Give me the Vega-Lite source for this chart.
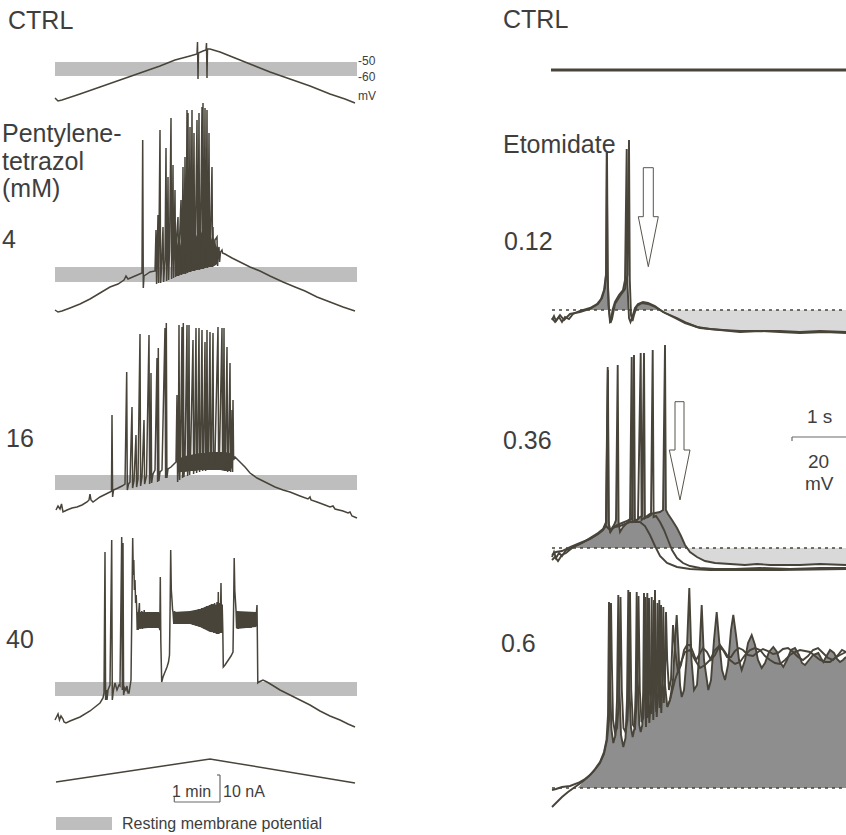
{
"$schema": "https://vega.github.io/schema/vega-lite/v6.json",
"width": 846, "height": 835, "padding": 0, "autosize": {"type": "none"},
"background": "white",
"config": {"view": {"stroke": null}},
"datasets": {
"bands": [
{"x":55,"x2":357,"y":62,"y2":76},
{"x":55,"x2":357,"y":267,"y2":282},
{"x":55,"x2":357,"y":475,"y2":490},
{"x":55,"x2":357,"y":682,"y2":696},
{"x":56,"x2":112,"y":817,"y2":830}
],
"mass": [
{"s":"m4","x":176,"y":250,"b":276},{"s":"m4","x":178,"y":241,"b":276},{"s":"m4","x":180,"y":246,"b":275},{"s":"m4","x":182,"y":237,"b":274},{"s":"m4","x":184,"y":243,"b":274},{"s":"m4","x":186,"y":235,"b":273},{"s":"m4","x":188,"y":240,"b":272},{"s":"m4","x":190,"y":233,"b":272},{"s":"m4","x":192,"y":238,"b":271},{"s":"m4","x":194,"y":232,"b":271},{"s":"m4","x":196,"y":237,"b":270},{"s":"m4","x":198,"y":231,"b":270},{"s":"m4","x":200,"y":236,"b":269},{"s":"m4","x":202,"y":231,"b":269},{"s":"m4","x":204,"y":236,"b":268},{"s":"m4","x":206,"y":232,"b":268},{"s":"m4","x":208,"y":237,"b":267},{"s":"m4","x":210,"y":234,"b":267},{"s":"m4","x":212,"y":240,"b":267},{"s":"m4","x":214,"y":238,"b":266},{"s":"m4","x":216,"y":245,"b":265},{"s":"m4","x":218,"y":250,"b":263},
{"s":"m16","x":177,"y":462,"b":470},{"s":"m16","x":180,"y":458,"b":472},{"s":"m16","x":185,"y":456,"b":472},{"s":"m16","x":190,"y":455,"b":471},{"s":"m16","x":195,"y":454,"b":471},{"s":"m16","x":200,"y":453,"b":470},{"s":"m16","x":205,"y":453,"b":470},{"s":"m16","x":210,"y":452,"b":470},{"s":"m16","x":215,"y":452,"b":470},{"s":"m16","x":220,"y":452,"b":470},{"s":"m16","x":225,"y":452,"b":471},{"s":"m16","x":230,"y":453,"b":471},{"s":"m16","x":233,"y":455,"b":466},
{"s":"m40a","x":137.5,"y":612,"b":629},{"s":"m40a","x":148,"y":612,"b":628},{"s":"m40a","x":159.5,"y":612,"b":628},
{"s":"m40b","x":173,"y":612,"b":624},{"s":"m40b","x":190,"y":611,"b":624},{"s":"m40b","x":200,"y":609,"b":627},{"s":"m40b","x":210,"y":605,"b":632},{"s":"m40b","x":222.5,"y":604,"b":633},
{"s":"m40c","x":236.5,"y":611,"b":629},{"s":"m40c","x":256.5,"y":612,"b":627}
],
"left": [
{"s":"c","x":55,"y":98},{"s":"c","x":58,"y":101},{"s":"c","x":62,"y":100},{"s":"c","x":80,"y":94},{"s":"c","x":100,"y":87},{"s":"c","x":120,"y":80},{"s":"c","x":140,"y":73},{"s":"c","x":160,"y":66},{"s":"c","x":175,"y":60},{"s":"c","x":190,"y":56},{"s":"c","x":197,"y":54},{"s":"c","x":197.5,"y":42},{"s":"c","x":198,"y":79},{"s":"c","x":198.5,"y":53},{"s":"c","x":203,"y":51},{"s":"c","x":206,"y":50},{"s":"c","x":206.5,"y":43},{"s":"c","x":207,"y":78},{"s":"c","x":207.5,"y":49},{"s":"c","x":210,"y":49},{"s":"c","x":220,"y":52},{"s":"c","x":235,"y":58},{"s":"c","x":250,"y":64},{"s":"c","x":270,"y":72},{"s":"c","x":290,"y":79},{"s":"c","x":310,"y":86},{"s":"c","x":330,"y":94},{"s":"c","x":345,"y":99},{"s":"c","x":355,"y":103},

{"s":"p4","x":55,"y":310},{"s":"p4","x":58,"y":312},{"s":"p4","x":62,"y":311},{"s":"p4","x":70,"y":308},{"s":"p4","x":80,"y":304},{"s":"p4","x":90,"y":299},{"s":"p4","x":100,"y":293},{"s":"p4","x":110,"y":287},{"s":"p4","x":118,"y":284},{"s":"p4","x":124,"y":280},{"s":"p4","x":126,"y":276},{"s":"p4","x":128,"y":279},{"s":"p4","x":135,"y":276},{"s":"p4","x":142,"y":273},{"s":"p4","x":142.7,"y":140},{"s":"p4","x":143.3,"y":288},{"s":"p4","x":144,"y":276},{"s":"p4","x":147,"y":274},{"s":"p4","x":150,"y":272},{"s":"p4","x":155,"y":271},
{"s":"p4","x":156,"y":230},{"s":"p4","x":156.6,"y":284},{"s":"p4","x":158,"y":215},{"s":"p4","x":158.6,"y":283},{"s":"p4","x":160,"y":130},{"s":"p4","x":160.6,"y":283},{"s":"p4","x":161.5,"y":268},{"s":"p4","x":163,"y":227},{"s":"p4","x":163.6,"y":282},{"s":"p4","x":165,"y":260},{"s":"p4","x":166,"y":148},{"s":"p4","x":166.6,"y":281},{"s":"p4","x":167.3,"y":255},{"s":"p4","x":168,"y":177},{"s":"p4","x":168.6,"y":280},{"s":"p4","x":169.5,"y":250},{"s":"p4","x":171,"y":118},{"s":"p4","x":171.6,"y":279},{"s":"p4","x":172.3,"y":245},{"s":"p4","x":173,"y":165},{"s":"p4","x":173.6,"y":278},{"s":"p4","x":174.3,"y":240},{"s":"p4","x":175,"y":190},{"s":"p4","x":175.6,"y":277},{"s":"p4","x":176.5,"y":238},{"s":"p4","x":178,"y":217},{"s":"p4","x":178.6,"y":276},{"s":"p4","x":179.5,"y":240},{"s":"p4","x":181,"y":200},{"s":"p4","x":181.6,"y":275},{"s":"p4","x":182.3,"y":236},{"s":"p4","x":183,"y":167},{"s":"p4","x":183.6,"y":274},{"s":"p4","x":184.3,"y":238},{"s":"p4","x":185,"y":157},{"s":"p4","x":185.6,"y":274},{"s":"p4","x":186.3,"y":236},{"s":"p4","x":187,"y":110},{"s":"p4","x":187.6,"y":273},{"s":"p4","x":188,"y":113},{"s":"p4","x":188.6,"y":272},{"s":"p4","x":189.3,"y":235},{"s":"p4","x":190,"y":127},{"s":"p4","x":190.6,"y":272},{"s":"p4","x":191.3,"y":234},{"s":"p4","x":192,"y":110},{"s":"p4","x":192.6,"y":271},{"s":"p4","x":193.3,"y":233},{"s":"p4","x":194,"y":133},{"s":"p4","x":194.6,"y":271},{"s":"p4","x":195.5,"y":233},{"s":"p4","x":197,"y":120},{"s":"p4","x":197.6,"y":270},{"s":"p4","x":198.3,"y":232},{"s":"p4","x":199,"y":113},{"s":"p4","x":199.6,"y":270},{"s":"p4","x":200.5,"y":233},{"s":"p4","x":202,"y":107},{"s":"p4","x":202.5,"y":269},{"s":"p4","x":203,"y":103},{"s":"p4","x":203.6,"y":269},{"s":"p4","x":204.3,"y":232},{"s":"p4","x":205,"y":108},{"s":"p4","x":205.6,"y":268},{"s":"p4","x":206.3,"y":233},{"s":"p4","x":207,"y":110},{"s":"p4","x":207.6,"y":268},{"s":"p4","x":208.3,"y":234},{"s":"p4","x":209,"y":133},{"s":"p4","x":209.6,"y":267},{"s":"p4","x":210.5,"y":236},{"s":"p4","x":212,"y":167},{"s":"p4","x":212.6,"y":267},{"s":"p4","x":213,"y":227},{"s":"p4","x":213.6,"y":266},{"s":"p4","x":215,"y":240},{"s":"p4","x":217,"y":237},{"s":"p4","x":217.6,"y":266},{"s":"p4","x":218.3,"y":250},{"s":"p4","x":219,"y":247},{"s":"p4","x":219.6,"y":262},{"s":"p4","x":220.5,"y":252},{"s":"p4","x":222,"y":250},{"s":"p4","x":222.5,"y":253},{"s":"p4","x":225,"y":254},{"s":"p4","x":232,"y":258},{"s":"p4","x":240,"y":262},{"s":"p4","x":250,"y":267},{"s":"p4","x":260,"y":271},{"s":"p4","x":270,"y":276},{"s":"p4","x":283,"y":282},{"s":"p4","x":295,"y":287},{"s":"p4","x":305,"y":291},{"s":"p4","x":317,"y":297},{"s":"p4","x":330,"y":302},{"s":"p4","x":343,"y":307},{"s":"p4","x":355,"y":311},

{"s":"p16","x":56,"y":510},{"s":"p16","x":58,"y":506},{"s":"p16","x":60,"y":509},{"s":"p16","x":61.5,"y":504},{"s":"p16","x":63,"y":512},{"s":"p16","x":67,"y":510},{"s":"p16","x":72,"y":508},{"s":"p16","x":77,"y":507},{"s":"p16","x":82,"y":505},{"s":"p16","x":87,"y":502},{"s":"p16","x":89,"y":500},{"s":"p16","x":90,"y":494},{"s":"p16","x":91,"y":500},{"s":"p16","x":93,"y":502},{"s":"p16","x":100,"y":497},{"s":"p16","x":106,"y":494},{"s":"p16","x":110,"y":492},{"s":"p16","x":111.5,"y":491},{"s":"p16","x":112,"y":415},{"s":"p16","x":112.6,"y":497},{"s":"p16","x":113.5,"y":490},{"s":"p16","x":118,"y":488},{"s":"p16","x":122,"y":486},{"s":"p16","x":125,"y":484},{"s":"p16","x":126.7,"y":372},{"s":"p16","x":127.3,"y":490},{"s":"p16","x":128.5,"y":484},{"s":"p16","x":130,"y":482},{"s":"p16","x":132,"y":407},{"s":"p16","x":132.6,"y":488},{"s":"p16","x":134,"y":481},{"s":"p16","x":136,"y":435},{"s":"p16","x":136.6,"y":487},{"s":"p16","x":138,"y":479},{"s":"p16","x":140,"y":334},{"s":"p16","x":140.6,"y":486},{"s":"p16","x":142,"y":477},{"s":"p16","x":144,"y":420},{"s":"p16","x":144.6,"y":484},{"s":"p16","x":146.5,"y":476},{"s":"p16","x":149,"y":335},{"s":"p16","x":149.6,"y":484},{"s":"p16","x":150.3,"y":475},{"s":"p16","x":151,"y":373},{"s":"p16","x":151.6,"y":483},{"s":"p16","x":153,"y":474},{"s":"p16","x":155,"y":470},{"s":"p16","x":157,"y":358},{"s":"p16","x":157.6,"y":482},{"s":"p16","x":158.3,"y":348},{"s":"p16","x":158.9,"y":481},{"s":"p16","x":160,"y":472},{"s":"p16","x":162,"y":470},{"s":"p16","x":165,"y":328},{"s":"p16","x":165.6,"y":478},{"s":"p16","x":166.3,"y":323},{"s":"p16","x":166.9,"y":478},{"s":"p16","x":168,"y":469},{"s":"p16","x":171,"y":467},{"s":"p16","x":174,"y":464},{"s":"p16","x":176,"y":462},{"s":"p16","x":177,"y":395},{"s":"p16","x":177.6,"y":482},{"s":"p16","x":178.3,"y":466},{"s":"p16","x":179,"y":325},{"s":"p16","x":179.6,"y":480},{"s":"p16","x":180.4,"y":462},{"s":"p16","x":182,"y":327},{"s":"p16","x":182.6,"y":478},{"s":"p16","x":183.3,"y":323},{"s":"p16","x":183.9,"y":477},{"s":"p16","x":185,"y":460},{"s":"p16","x":187,"y":325},{"s":"p16","x":187.6,"y":476},{"s":"p16","x":188.4,"y":459},{"s":"p16","x":189,"y":325},{"s":"p16","x":189.6,"y":475},{"s":"p16","x":190.5,"y":459},{"s":"p16","x":193,"y":340},{"s":"p16","x":193.6,"y":474},{"s":"p16","x":194.5,"y":458},{"s":"p16","x":196,"y":328},{"s":"p16","x":196.6,"y":473},{"s":"p16","x":197.5,"y":458},{"s":"p16","x":199,"y":328},{"s":"p16","x":199.6,"y":472},{"s":"p16","x":200.5,"y":457},{"s":"p16","x":202,"y":330},{"s":"p16","x":202.6,"y":471},{"s":"p16","x":203.5,"y":457},{"s":"p16","x":205,"y":342},{"s":"p16","x":205.6,"y":471},{"s":"p16","x":206.3,"y":457},{"s":"p16","x":207,"y":330},{"s":"p16","x":207.6,"y":470},{"s":"p16","x":208.5,"y":456},{"s":"p16","x":210,"y":332},{"s":"p16","x":210.6,"y":470},{"s":"p16","x":211.5,"y":456},{"s":"p16","x":213,"y":333},{"s":"p16","x":213.6,"y":470},{"s":"p16","x":215,"y":455},{"s":"p16","x":218,"y":327},{"s":"p16","x":218.6,"y":470},{"s":"p16","x":219.5,"y":455},{"s":"p16","x":222,"y":328},{"s":"p16","x":222.6,"y":470},{"s":"p16","x":223.3,"y":455},{"s":"p16","x":224,"y":328},{"s":"p16","x":224.6,"y":471},{"s":"p16","x":225.5,"y":455},{"s":"p16","x":227,"y":347},{"s":"p16","x":227.6,"y":472},{"s":"p16","x":228.5,"y":455},{"s":"p16","x":230,"y":363},{"s":"p16","x":230.6,"y":472},{"s":"p16","x":231.3,"y":455},{"s":"p16","x":232,"y":410},{"s":"p16","x":232.6,"y":472},{"s":"p16","x":233,"y":400},{"s":"p16","x":233.6,"y":460},{"s":"p16","x":235,"y":457},{"s":"p16","x":240,"y":462},{"s":"p16","x":245,"y":467},{"s":"p16","x":250,"y":473},{"s":"p16","x":257,"y":478},{"s":"p16","x":265,"y":482},{"s":"p16","x":275,"y":487},{"s":"p16","x":283,"y":490},{"s":"p16","x":290,"y":492},{"s":"p16","x":300,"y":496},{"s":"p16","x":308,"y":499},{"s":"p16","x":310,"y":497},{"s":"p16","x":311,"y":500},{"s":"p16","x":317,"y":502},{"s":"p16","x":325,"y":505},{"s":"p16","x":330,"y":507},{"s":"p16","x":333,"y":506},{"s":"p16","x":335,"y":509},{"s":"p16","x":343,"y":511},{"s":"p16","x":348,"y":513},{"s":"p16","x":350,"y":512},{"s":"p16","x":352,"y":516},{"s":"p16","x":357,"y":518},

{"s":"p40","x":55,"y":720},{"s":"p40","x":57,"y":716},{"s":"p40","x":58,"y":714},{"s":"p40","x":59.5,"y":720},{"s":"p40","x":61,"y":716},{"s":"p40","x":63,"y":719},{"s":"p40","x":64,"y":722},{"s":"p40","x":66,"y":723},{"s":"p40","x":70,"y":721},{"s":"p40","x":80,"y":717},{"s":"p40","x":90,"y":711},{"s":"p40","x":100,"y":703},{"s":"p40","x":103,"y":698},{"s":"p40","x":104,"y":693},{"s":"p40","x":105,"y":552},{"s":"p40","x":105.6,"y":700},{"s":"p40","x":106.5,"y":690},{"s":"p40","x":107,"y":700},{"s":"p40","x":108,"y":690},{"s":"p40","x":110,"y":685},{"s":"p40","x":111.7,"y":540},{"s":"p40","x":112.3,"y":700},{"s":"p40","x":113.5,"y":690},{"s":"p40","x":115,"y":683},{"s":"p40","x":117,"y":690},{"s":"p40","x":119,"y":685},{"s":"p40","x":120,"y":686},{"s":"p40","x":121.7,"y":537},{"s":"p40","x":122.3,"y":690},{"s":"p40","x":123,"y":543},{"s":"p40","x":123.6,"y":695},{"s":"p40","x":125,"y":688},{"s":"p40","x":126,"y":690},{"s":"p40","x":127,"y":686},{"s":"p40","x":128,"y":693},{"s":"p40","x":129,"y":693},{"s":"p40","x":131,"y":680},{"s":"p40","x":132.7,"y":538},{"s":"p40","x":133.3,"y":575},{"s":"p40","x":133.8,"y":560},{"s":"p40","x":134.4,"y":590},{"s":"p40","x":135,"y":580},{"s":"p40","x":135.6,"y":603},{"s":"p40","x":136.2,"y":595},{"s":"p40","x":136.8,"y":612},{"s":"p40","x":137.2,"y":630},
{"s":"p40","x":137.6,"y":612},{"s":"p40","x":138.2,"y":630},{"s":"p40","x":138.8,"y":611},{"s":"p40","x":139.4,"y":603},{"s":"p40","x":140,"y":629},{"s":"p40","x":140.6,"y":612},{"s":"p40","x":141.2,"y":628},{"s":"p40","x":141.8,"y":611},{"s":"p40","x":142.4,"y":629},{"s":"p40","x":143,"y":612},{"s":"p40","x":143.6,"y":628},{"s":"p40","x":144.2,"y":610},{"s":"p40","x":144.8,"y":628},{"s":"p40","x":145.4,"y":612},{"s":"p40","x":146,"y":627},{"s":"p40","x":146.6,"y":613},{"s":"p40","x":147.2,"y":628},{"s":"p40","x":147.8,"y":612},{"s":"p40","x":148.4,"y":627},{"s":"p40","x":149,"y":613},{"s":"p40","x":149.6,"y":627},{"s":"p40","x":150.2,"y":612},{"s":"p40","x":150.8,"y":628},{"s":"p40","x":151.4,"y":613},{"s":"p40","x":152,"y":627},{"s":"p40","x":152.6,"y":612},{"s":"p40","x":153.2,"y":628},{"s":"p40","x":153.8,"y":613},{"s":"p40","x":154.4,"y":627},{"s":"p40","x":155,"y":612},{"s":"p40","x":155.6,"y":628},{"s":"p40","x":156.2,"y":613},{"s":"p40","x":156.8,"y":627},{"s":"p40","x":157.4,"y":612},{"s":"p40","x":158,"y":628},{"s":"p40","x":158.6,"y":613},{"s":"p40","x":159.2,"y":627},
{"s":"p40","x":159.8,"y":630},{"s":"p40","x":160.3,"y":577},{"s":"p40","x":160.8,"y":640},{"s":"p40","x":161.7,"y":682},{"s":"p40","x":163,"y":677},{"s":"p40","x":165,"y":672},{"s":"p40","x":167,"y":667},{"s":"p40","x":168.5,"y":662},{"s":"p40","x":169.5,"y":655},{"s":"p40","x":170.2,"y":600},{"s":"p40","x":170.7,"y":550},{"s":"p40","x":171.3,"y":590},{"s":"p40","x":172,"y":600},{"s":"p40","x":172.6,"y":610},
{"s":"p40","x":173,"y":612},{"s":"p40","x":173.8,"y":624},{"s":"p40","x":174.6,"y":611},{"s":"p40","x":175.4,"y":624},{"s":"p40","x":176.2,"y":612},{"s":"p40","x":177,"y":624},{"s":"p40","x":177.8,"y":612},{"s":"p40","x":178.6,"y":623},{"s":"p40","x":179.4,"y":612},{"s":"p40","x":180.2,"y":623},{"s":"p40","x":181,"y":612},{"s":"p40","x":181.8,"y":623},{"s":"p40","x":182.6,"y":612},{"s":"p40","x":183.4,"y":623},{"s":"p40","x":184.2,"y":612},{"s":"p40","x":185,"y":623},{"s":"p40","x":185.8,"y":612},{"s":"p40","x":186.6,"y":624},{"s":"p40","x":187.4,"y":612},{"s":"p40","x":188.2,"y":624},{"s":"p40","x":189,"y":612},{"s":"p40","x":189.8,"y":624},{"s":"p40","x":190.6,"y":611},{"s":"p40","x":191.4,"y":624},{"s":"p40","x":192.2,"y":611},{"s":"p40","x":193,"y":625},{"s":"p40","x":193.8,"y":611},{"s":"p40","x":194.6,"y":625},{"s":"p40","x":195.4,"y":610},{"s":"p40","x":196.2,"y":626},{"s":"p40","x":197,"y":610},{"s":"p40","x":197.8,"y":626},{"s":"p40","x":198.6,"y":609},{"s":"p40","x":199.4,"y":627},{"s":"p40","x":200.2,"y":609},{"s":"p40","x":201,"y":627},{"s":"p40","x":201.8,"y":608},{"s":"p40","x":202.6,"y":628},{"s":"p40","x":203.4,"y":608},{"s":"p40","x":204.2,"y":629},{"s":"p40","x":205,"y":607},{"s":"p40","x":205.8,"y":629},{"s":"p40","x":206.6,"y":606},{"s":"p40","x":207.4,"y":630},{"s":"p40","x":208.2,"y":606},{"s":"p40","x":209,"y":631},{"s":"p40","x":209.8,"y":605},{"s":"p40","x":210.6,"y":632},{"s":"p40","x":211.4,"y":604},{"s":"p40","x":212.2,"y":632},{"s":"p40","x":213,"y":604},{"s":"p40","x":213.8,"y":633},{"s":"p40","x":214.6,"y":603},{"s":"p40","x":215.4,"y":633},{"s":"p40","x":216,"y":605},{"s":"p40","x":216.4,"y":634},{"s":"p40","x":217,"y":602},{"s":"p40","x":217.8,"y":634},{"s":"p40","x":218.3,"y":592},{"s":"p40","x":218.9,"y":634},{"s":"p40","x":219.5,"y":603},{"s":"p40","x":220.2,"y":633},{"s":"p40","x":221,"y":583},{"s":"p40","x":221.6,"y":633},{"s":"p40","x":222.2,"y":605},{"s":"p40","x":222.8,"y":630},
{"s":"p40","x":223.3,"y":667},{"s":"p40","x":225,"y":665},{"s":"p40","x":227,"y":662},{"s":"p40","x":229,"y":659},{"s":"p40","x":231,"y":656},{"s":"p40","x":233,"y":652},{"s":"p40","x":233.7,"y":600},{"s":"p40","x":234.2,"y":558},{"s":"p40","x":234.8,"y":590},{"s":"p40","x":235.4,"y":600},{"s":"p40","x":236,"y":610},
{"s":"p40","x":236.6,"y":628},{"s":"p40","x":237.4,"y":611},{"s":"p40","x":238.2,"y":629},{"s":"p40","x":239,"y":612},{"s":"p40","x":239.8,"y":628},{"s":"p40","x":240.6,"y":612},{"s":"p40","x":241.4,"y":628},{"s":"p40","x":242.2,"y":612},{"s":"p40","x":243,"y":628},{"s":"p40","x":243.8,"y":613},{"s":"p40","x":244.6,"y":628},{"s":"p40","x":245.4,"y":612},{"s":"p40","x":246.2,"y":628},{"s":"p40","x":247,"y":613},{"s":"p40","x":247.8,"y":628},{"s":"p40","x":248.6,"y":612},{"s":"p40","x":249.4,"y":628},{"s":"p40","x":250.2,"y":613},{"s":"p40","x":251,"y":628},{"s":"p40","x":251.8,"y":612},{"s":"p40","x":252.6,"y":627},{"s":"p40","x":253.4,"y":613},{"s":"p40","x":254.2,"y":627},{"s":"p40","x":255,"y":613},{"s":"p40","x":255.8,"y":626},{"s":"p40","x":256.5,"y":612},{"s":"p40","x":257,"y":605},{"s":"p40","x":257.4,"y":640},{"s":"p40","x":257.8,"y":683},{"s":"p40","x":259,"y":682},{"s":"p40","x":261,"y":681},{"s":"p40","x":263,"y":680},{"s":"p40","x":267,"y":682},{"s":"p40","x":272,"y":685},{"s":"p40","x":280,"y":690},{"s":"p40","x":290,"y":695},{"s":"p40","x":300,"y":700},{"s":"p40","x":310,"y":705},{"s":"p40","x":320,"y":711},{"s":"p40","x":330,"y":716},{"s":"p40","x":340,"y":720},{"s":"p40","x":348,"y":724},{"s":"p40","x":355,"y":727},

{"s":"ramp","x":56,"y":782},{"s":"ramp","x":210,"y":759},{"s":"ramp","x":355,"y":783}
],
"right": [
{"s":"r1a","x":552,"y":320},{"s":"r1a","x":554,"y":316},{"s":"r1a","x":556,"y":321},{"s":"r1a","x":559,"y":317},{"s":"r1a","x":562,"y":322},{"s":"r1a","x":565,"y":317},{"s":"r1a","x":569,"y":319},{"s":"r1a","x":573,"y":314},{"s":"r1a","x":580,"y":311},{"s":"r1a","x":590,"y":308},{"s":"r1a","x":597,"y":304},{"s":"r1a","x":601,"y":299},{"s":"r1a","x":604,"y":290},{"s":"r1a","x":606,"y":275},{"s":"r1a","x":606.7,"y":152},{"s":"r1a","x":607.5,"y":270},{"s":"r1a","x":608.5,"y":305},{"s":"r1a","x":610,"y":322},{"s":"r1a","x":611,"y":321},{"s":"r1a","x":612.5,"y":310},{"s":"r1a","x":615,"y":302},{"s":"r1a","x":619,"y":295},{"s":"r1a","x":623,"y":290},{"s":"r1a","x":625,"y":280},{"s":"r1a","x":626.7,"y":149},{"s":"r1a","x":627.5,"y":285},{"s":"r1a","x":629,"y":318},{"s":"r1a","x":630.5,"y":322},{"s":"r1a","x":632,"y":318},{"s":"r1a","x":635,"y":308},{"s":"r1a","x":638,"y":304},{"s":"r1a","x":643,"y":302},{"s":"r1a","x":648,"y":303},{"s":"r1a","x":655,"y":306},{"s":"r1a","x":663,"y":312},{"s":"r1a","x":670,"y":315},{"s":"r1a","x":677,"y":318},{"s":"r1a","x":687,"y":323},{"s":"r1a","x":697,"y":327},{"s":"r1a","x":710,"y":329},{"s":"r1a","x":723,"y":330},{"s":"r1a","x":740,"y":331},{"s":"r1a","x":757,"y":331},{"s":"r1a","x":780,"y":331},{"s":"r1a","x":800,"y":332},{"s":"r1a","x":820,"y":331},{"s":"r1a","x":846,"y":332},
{"s":"r1b","x":552,"y":318},{"s":"r1b","x":555,"y":322},{"s":"r1b","x":560,"y":315},{"s":"r1b","x":564,"y":320},{"s":"r1b","x":570,"y":314},{"s":"r1b","x":580,"y":312},{"s":"r1b","x":590,"y":309},{"s":"r1b","x":598,"y":304},{"s":"r1b","x":602,"y":298},{"s":"r1b","x":605,"y":288},{"s":"r1b","x":606.3,"y":270},{"s":"r1b","x":607,"y":153},{"s":"r1b","x":607.8,"y":280},{"s":"r1b","x":609,"y":310},{"s":"r1b","x":610.5,"y":323},{"s":"r1b","x":612,"y":319},{"s":"r1b","x":615,"y":304},{"s":"r1b","x":620,"y":296},{"s":"r1b","x":625,"y":289},{"s":"r1b","x":627.5,"y":275},{"s":"r1b","x":629,"y":140},{"s":"r1b","x":629.8,"y":280},{"s":"r1b","x":631,"y":315},{"s":"r1b","x":632.5,"y":321},{"s":"r1b","x":634,"y":315},{"s":"r1b","x":637,"y":306},{"s":"r1b","x":642,"y":303},{"s":"r1b","x":648,"y":304},{"s":"r1b","x":655,"y":307},{"s":"r1b","x":665,"y":313},{"s":"r1b","x":675,"y":318},{"s":"r1b","x":685,"y":323},{"s":"r1b","x":700,"y":328},{"s":"r1b","x":720,"y":330},{"s":"r1b","x":740,"y":332},{"s":"r1b","x":760,"y":331},{"s":"r1b","x":780,"y":332},{"s":"r1b","x":800,"y":333},{"s":"r1b","x":825,"y":332},{"s":"r1b","x":846,"y":333},

{"s":"r3a","x":552,"y":557},{"s":"r3a","x":554,"y":552},{"s":"r3a","x":556,"y":558},{"s":"r3a","x":559,"y":553},{"s":"r3a","x":562,"y":556},{"s":"r3a","x":566,"y":550},{"s":"r3a","x":570,"y":549},{"s":"r3a","x":575,"y":546},{"s":"r3a","x":582,"y":543},{"s":"r3a","x":590,"y":538},{"s":"r3a","x":598,"y":533},{"s":"r3a","x":603,"y":529},{"s":"r3a","x":606,"y":522},{"s":"r3a","x":607.7,"y":367},{"s":"r3a","x":608.6,"y":522},{"s":"r3a","x":610,"y":531},{"s":"r3a","x":612,"y":528},{"s":"r3a","x":614,"y":525},{"s":"r3a","x":616,"y":520},{"s":"r3a","x":617.7,"y":365},{"s":"r3a","x":618.6,"y":522},{"s":"r3a","x":620,"y":532},{"s":"r3a","x":623,"y":527},{"s":"r3a","x":626,"y":524},{"s":"r3a","x":629,"y":521},{"s":"r3a","x":632,"y":518},{"s":"r3a","x":634,"y":355},{"s":"r3a","x":634.9,"y":520},{"s":"r3a","x":637,"y":520},{"s":"r3a","x":640,"y":517},{"s":"r3a","x":642,"y":516},{"s":"r3a","x":644,"y":353},{"s":"r3a","x":644.9,"y":518},{"s":"r3a","x":647,"y":516},{"s":"r3a","x":650,"y":514},{"s":"r3a","x":655,"y":513},{"s":"r3a","x":660,"y":512},{"s":"r3a","x":663,"y":510},{"s":"r3a","x":665,"y":345},{"s":"r3a","x":665.9,"y":510},{"s":"r3a","x":668,"y":514},{"s":"r3a","x":672,"y":520},{"s":"r3a","x":677,"y":528},{"s":"r3a","x":681,"y":536},{"s":"r3a","x":685,"y":545},{"s":"r3a","x":690,"y":552},{"s":"r3a","x":697,"y":557},{"s":"r3a","x":705,"y":561},{"s":"r3a","x":715,"y":563},{"s":"r3a","x":730,"y":564},{"s":"r3a","x":745,"y":565},{"s":"r3a","x":757,"y":564},{"s":"r3a","x":770,"y":565},{"s":"r3a","x":800,"y":565},{"s":"r3a","x":820,"y":564},{"s":"r3a","x":846,"y":565},
{"s":"r3b","x":552,"y":560},{"s":"r3b","x":555,"y":557},{"s":"r3b","x":558,"y":561},{"s":"r3b","x":562,"y":555},{"s":"r3b","x":566,"y":553},{"s":"r3b","x":572,"y":548},{"s":"r3b","x":580,"y":544},{"s":"r3b","x":590,"y":539},{"s":"r3b","x":598,"y":534},{"s":"r3b","x":603,"y":530},{"s":"r3b","x":606,"y":524},{"s":"r3b","x":607.9,"y":370},{"s":"r3b","x":608.8,"y":524},{"s":"r3b","x":610.5,"y":532},{"s":"r3b","x":613,"y":528},{"s":"r3b","x":617,"y":525},{"s":"r3b","x":622,"y":523},{"s":"r3b","x":627,"y":521},{"s":"r3b","x":630,"y":519},{"s":"r3b","x":631.7,"y":357},{"s":"r3b","x":632.6,"y":522},{"s":"r3b","x":635,"y":521},{"s":"r3b","x":638,"y":519},{"s":"r3b","x":640.7,"y":353},{"s":"r3b","x":641.6,"y":520},{"s":"r3b","x":644,"y":518},{"s":"r3b","x":648,"y":517},{"s":"r3b","x":651,"y":515},{"s":"r3b","x":652.7,"y":350},{"s":"r3b","x":653.6,"y":517},{"s":"r3b","x":656,"y":516},{"s":"r3b","x":660,"y":522},{"s":"r3b","x":664,"y":530},{"s":"r3b","x":668,"y":540},{"s":"r3b","x":672,"y":550},{"s":"r3b","x":677,"y":558},{"s":"r3b","x":683,"y":563},{"s":"r3b","x":690,"y":566},{"s":"r3b","x":700,"y":568},{"s":"r3b","x":715,"y":569},{"s":"r3b","x":735,"y":569},{"s":"r3b","x":760,"y":568},{"s":"r3b","x":790,"y":569},{"s":"r3b","x":820,"y":568},{"s":"r3b","x":846,"y":568},
{"s":"r3c","x":552,"y":555},{"s":"r3c","x":556,"y":552},{"s":"r3c","x":562,"y":551},{"s":"r3c","x":570,"y":547},{"s":"r3c","x":580,"y":543},{"s":"r3c","x":590,"y":539},{"s":"r3c","x":598,"y":534},{"s":"r3c","x":603,"y":530},{"s":"r3c","x":606,"y":526},{"s":"r3c","x":610,"y":530},{"s":"r3c","x":615,"y":527},{"s":"r3c","x":620,"y":526},{"s":"r3c","x":625,"y":524},{"s":"r3c","x":630,"y":522},{"s":"r3c","x":635,"y":522},{"s":"r3c","x":640,"y":522},{"s":"r3c","x":645,"y":526},{"s":"r3c","x":650,"y":535},{"s":"r3c","x":655,"y":546},{"s":"r3c","x":660,"y":556},{"s":"r3c","x":667,"y":563},{"s":"r3c","x":677,"y":567},{"s":"r3c","x":690,"y":569},{"s":"r3c","x":710,"y":570},{"s":"r3c","x":740,"y":570},{"s":"r3c","x":780,"y":570},{"s":"r3c","x":846,"y":569},

{"s":"r6a","x":552,"y":790},{"s":"r6a","x":556,"y":789},{"s":"r6a","x":562,"y":787},{"s":"r6a","x":570,"y":786},{"s":"r6a","x":578,"y":783},{"s":"r6a","x":585,"y":779},{"s":"r6a","x":590,"y":775},{"s":"r6a","x":595,"y":769},{"s":"r6a","x":600,"y":762},{"s":"r6a","x":604,"y":752},{"s":"r6a","x":606.5,"y":740},{"s":"r6a","x":608,"y":715},{"s":"r6a","x":609,"y":602},{"s":"r6a","x":610,"y":680},{"s":"r6a","x":611.5,"y":730},{"s":"r6a","x":613.3,"y":743},{"s":"r6a","x":615.5,"y":735},{"s":"r6a","x":617,"y":700},{"s":"r6a","x":618.3,"y":595},{"s":"r6a","x":619.5,"y":690},{"s":"r6a","x":621,"y":735},{"s":"r6a","x":623.3,"y":747},{"s":"r6a","x":625.5,"y":738},{"s":"r6a","x":627,"y":700},{"s":"r6a","x":628.3,"y":590},{"s":"r6a","x":629.5,"y":690},{"s":"r6a","x":631,"y":728},{"s":"r6a","x":632.7,"y":737},{"s":"r6a","x":634.5,"y":728},{"s":"r6a","x":635.7,"y":690},{"s":"r6a","x":636.7,"y":592},{"s":"r6a","x":637.8,"y":680},{"s":"r6a","x":639.3,"y":725},{"s":"r6a","x":640.7,"y":732},{"s":"r6a","x":642.3,"y":725},{"s":"r6a","x":643.2,"y":690},{"s":"r6a","x":644,"y":593},{"s":"r6a","x":644.8,"y":680},{"s":"r6a","x":646,"y":727},{"s":"r6a","x":646.6,"y":700},{"s":"r6a","x":647.3,"y":593},{"s":"r6a","x":648.1,"y":690},{"s":"r6a","x":649.3,"y":723},{"s":"r6a","x":650.6,"y":705},{"s":"r6a","x":651.7,"y":597},{"s":"r6a","x":652.5,"y":690},{"s":"r6a","x":653.3,"y":720},{"s":"r6a","x":654.1,"y":690},{"s":"r6a","x":655,"y":590},{"s":"r6a","x":655.8,"y":690},{"s":"r6a","x":656.7,"y":717},{"s":"r6a","x":658.2,"y":690},{"s":"r6a","x":659.3,"y":600},{"s":"r6a","x":660.3,"y":690},{"s":"r6a","x":661.3,"y":713},{"s":"r6a","x":662.4,"y":680},{"s":"r6a","x":663.3,"y":607},{"s":"r6a","x":664.5,"y":680},{"s":"r6a","x":667.3,"y":707},{"s":"r6a","x":670,"y":700},{"s":"r6a","x":673,"y":680},{"s":"r6a","x":675,"y":640},{"s":"r6a","x":676.7,"y":615},{"s":"r6a","x":678.5,"y":650},{"s":"r6a","x":680,"y":685},{"s":"r6a","x":681.7,"y":697},{"s":"r6a","x":684,"y":690},{"s":"r6a","x":686.5,"y":660},{"s":"r6a","x":689.3,"y":588},{"s":"r6a","x":691.5,"y":660},{"s":"r6a","x":694,"y":690},{"s":"r6a","x":697,"y":685},{"s":"r6a","x":699.5,"y":650},{"s":"r6a","x":701.7,"y":605},{"s":"r6a","x":704,"y":660},{"s":"r6a","x":708.3,"y":690},{"s":"r6a","x":711,"y":680},{"s":"r6a","x":714,"y":640},{"s":"r6a","x":716.7,"y":612},{"s":"r6a","x":719.5,"y":645},{"s":"r6a","x":722,"y":670},{"s":"r6a","x":725,"y":680},{"s":"r6a","x":728,"y":665},{"s":"r6a","x":731,"y":630},{"s":"r6a","x":733.3,"y":615},{"s":"r6a","x":736,"y":635},{"s":"r6a","x":739,"y":660},{"s":"r6a","x":741.7,"y":670},{"s":"r6a","x":745,"y":660},{"s":"r6a","x":748,"y":643},{"s":"r6a","x":751.7,"y":635},{"s":"r6a","x":755,"y":645},{"s":"r6a","x":758,"y":660},{"s":"r6a","x":761.7,"y":668},{"s":"r6a","x":765,"y":663},{"s":"r6a","x":769,"y":652},{"s":"r6a","x":773.3,"y":647},{"s":"r6a","x":777,"y":652},{"s":"r6a","x":780,"y":662},{"s":"r6a","x":783.3,"y":667},{"s":"r6a","x":787,"y":660},{"s":"r6a","x":791,"y":650},{"s":"r6a","x":795,"y":648},{"s":"r6a","x":799,"y":655},{"s":"r6a","x":802,"y":663},{"s":"r6a","x":805,"y":665},{"s":"r6a","x":809,"y":660},{"s":"r6a","x":813,"y":655},{"s":"r6a","x":818.3,"y":653},{"s":"r6a","x":821,"y":658},{"s":"r6a","x":823.3,"y":662},{"s":"r6a","x":826,"y":657},{"s":"r6a","x":830,"y":650},{"s":"r6a","x":834,"y":653},{"s":"r6a","x":837,"y":659},{"s":"r6a","x":840,"y":662},{"s":"r6a","x":843,"y":660},{"s":"r6a","x":846,"y":657},
{"s":"r6b","x":552,"y":807},{"s":"r6b","x":556,"y":803},{"s":"r6b","x":562,"y":797},{"s":"r6b","x":568,"y":792},{"s":"r6b","x":575,"y":787},{"s":"r6b","x":582,"y":782},{"s":"r6b","x":588,"y":777},{"s":"r6b","x":594,"y":771},{"s":"r6b","x":600,"y":763},{"s":"r6b","x":604,"y":754},{"s":"r6b","x":607,"y":740},{"s":"r6b","x":609,"y":720},{"s":"r6b","x":610.2,"y":640},{"s":"r6b","x":611,"y":603},{"s":"r6b","x":611.8,"y":660},{"s":"r6b","x":613,"y":720},{"s":"r6b","x":615,"y":733},{"s":"r6b","x":617,"y":728},{"s":"r6b","x":619,"y":700},{"s":"r6b","x":620.5,"y":597},{"s":"r6b","x":621.8,"y":690},{"s":"r6b","x":623.5,"y":728},{"s":"r6b","x":625.5,"y":732},{"s":"r6b","x":627.5,"y":720},{"s":"r6b","x":628.8,"y":690},{"s":"r6b","x":630,"y":592},{"s":"r6b","x":631.2,"y":690},{"s":"r6b","x":633,"y":725},{"s":"r6b","x":635,"y":728},{"s":"r6b","x":636.8,"y":700},{"s":"r6b","x":638.5,"y":596},{"s":"r6b","x":639.8,"y":690},{"s":"r6b","x":641.5,"y":722},{"s":"r6b","x":643.3,"y":718},{"s":"r6b","x":644.6,"y":680},{"s":"r6b","x":645.5,"y":597},{"s":"r6b","x":646.4,"y":690},{"s":"r6b","x":647.5,"y":718},{"s":"r6b","x":648.2,"y":690},{"s":"r6b","x":649,"y":598},{"s":"r6b","x":649.8,"y":690},{"s":"r6b","x":651,"y":714},{"s":"r6b","x":652.6,"y":700},{"s":"r6b","x":654,"y":600},{"s":"r6b","x":655,"y":690},{"s":"r6b","x":656.3,"y":712},{"s":"r6b","x":657.5,"y":603},{"s":"r6b","x":658.6,"y":690},{"s":"r6b","x":659.7,"y":708},{"s":"r6b","x":661,"y":605},{"s":"r6b","x":662.2,"y":680},{"s":"r6b","x":663.8,"y":703},{"s":"r6b","x":665,"y":680},{"s":"r6b","x":666,"y":612},{"s":"r6b","x":667.2,"y":660},{"s":"r6b","x":669,"y":690},{"s":"r6b","x":671,"y":680},{"s":"r6b","x":673,"y":625},{"s":"r6b","x":675,"y":650},{"s":"r6b","x":678,"y":672},{"s":"r6b","x":681,"y":665},{"s":"r6b","x":684,"y":650},{"s":"r6b","x":687,"y":645},{"s":"r6b","x":690,"y":645},{"s":"r6b","x":693,"y":652},{"s":"r6b","x":696,"y":660},{"s":"r6b","x":699,"y":655},{"s":"r6b","x":703,"y":648},{"s":"r6b","x":707,"y":652},{"s":"r6b","x":711,"y":660},{"s":"r6b","x":715,"y":655},{"s":"r6b","x":719,"y":647},{"s":"r6b","x":723,"y":650},{"s":"r6b","x":727,"y":657},{"s":"r6b","x":731,"y":657},{"s":"r6b","x":735,"y":651},{"s":"r6b","x":739,"y":648},{"s":"r6b","x":743,"y":650},{"s":"r6b","x":748,"y":655},{"s":"r6b","x":753,"y":656},{"s":"r6b","x":758,"y":652},{"s":"r6b","x":763,"y":649},{"s":"r6b","x":768,"y":651},{"s":"r6b","x":773,"y":654},{"s":"r6b","x":778,"y":653},{"s":"r6b","x":783,"y":649},{"s":"r6b","x":788,"y":648},{"s":"r6b","x":793,"y":652},{"s":"r6b","x":798,"y":657},{"s":"r6b","x":803,"y":660},{"s":"r6b","x":808,"y":656},{"s":"r6b","x":813,"y":650},{"s":"r6b","x":818,"y":648},{"s":"r6b","x":823,"y":653},{"s":"r6b","x":828,"y":658},{"s":"r6b","x":833,"y":660},{"s":"r6b","x":838,"y":655},{"s":"r6b","x":842,"y":650},{"s":"r6b","x":846,"y":652},
{"s":"r6c","x":667,"y":707},{"s":"r6c","x":670,"y":700},{"s":"r6c","x":675,"y":680},{"s":"r6c","x":680,"y":665},{"s":"r6c","x":685,"y":652},{"s":"r6c","x":690,"y":650},{"s":"r6c","x":695,"y":660},{"s":"r6c","x":700,"y":668},{"s":"r6c","x":705,"y":665},{"s":"r6c","x":710,"y":660},{"s":"r6c","x":715,"y":650},{"s":"r6c","x":720,"y":645},{"s":"r6c","x":725,"y":652},{"s":"r6c","x":730,"y":660},{"s":"r6c","x":735,"y":664},{"s":"r6c","x":740,"y":662},{"s":"r6c","x":745,"y":655},{"s":"r6c","x":750,"y":650},{"s":"r6c","x":755,"y":648},{"s":"r6c","x":760,"y":650},{"s":"r6c","x":765,"y":656},{"s":"r6c","x":770,"y":660},{"s":"r6c","x":775,"y":663},{"s":"r6c","x":780,"y":664},{"s":"r6c","x":785,"y":660},{"s":"r6c","x":790,"y":655},{"s":"r6c","x":795,"y":652},{"s":"r6c","x":800,"y":650},{"s":"r6c","x":805,"y":651},{"s":"r6c","x":810,"y":652},{"s":"r6c","x":815,"y":656},{"s":"r6c","x":820,"y":660},{"s":"r6c","x":825,"y":662},{"s":"r6c","x":830,"y":662},{"s":"r6c","x":835,"y":658},{"s":"r6c","x":840,"y":655},{"s":"r6c","x":846,"y":652}
],
"ctrlR": [
{"s":"rc","x":551,"y":70},{"s":"rc","x":600,"y":70},{"s":"rc","x":700,"y":70},{"s":"rc","x":846,"y":70}
],
"darkFill": [
{"s":"f12","x":588,"y":310,"b":310},{"s":"f12","x":590,"y":308,"b":310},{"s":"f12","x":597,"y":304,"b":310},{"s":"f12","x":601,"y":299,"b":310},{"s":"f12","x":604,"y":290,"b":310},{"s":"f12","x":606,"y":275,"b":310},{"s":"f12","x":606.7,"y":152,"b":310},{"s":"f12","x":607.5,"y":270,"b":310},{"s":"f12","x":608.5,"y":305,"b":310},{"s":"f12","x":609,"y":310,"b":310},{"s":"f12","x":612.3,"y":310,"b":310},{"s":"f12","x":615,"y":302,"b":310},{"s":"f12","x":619,"y":295,"b":310},{"s":"f12","x":623,"y":290,"b":310},{"s":"f12","x":625,"y":280,"b":310},{"s":"f12","x":626.7,"y":149,"b":310},{"s":"f12","x":627.5,"y":285,"b":310},{"s":"f12","x":628.8,"y":310,"b":310},{"s":"f12","x":633.5,"y":310,"b":310},{"s":"f12","x":635,"y":308,"b":310},{"s":"f12","x":638,"y":304,"b":310},{"s":"f12","x":643,"y":302,"b":310},{"s":"f12","x":648,"y":303,"b":310},{"s":"f12","x":655,"y":306,"b":310},{"s":"f12","x":662,"y":310,"b":310},
{"s":"f36","x":573,"y":548,"b":548},{"s":"f36","x":575,"y":546,"b":548},{"s":"f36","x":582,"y":543,"b":548},{"s":"f36","x":590,"y":538,"b":548},{"s":"f36","x":598,"y":533,"b":548},{"s":"f36","x":603,"y":529,"b":548},{"s":"f36","x":606,"y":522,"b":548},{"s":"f36","x":607.7,"y":367,"b":548},{"s":"f36","x":608.6,"y":522,"b":548},{"s":"f36","x":610,"y":531,"b":548},{"s":"f36","x":612,"y":528,"b":548},{"s":"f36","x":614,"y":525,"b":548},{"s":"f36","x":616,"y":520,"b":548},{"s":"f36","x":617.7,"y":365,"b":548},{"s":"f36","x":618.6,"y":522,"b":548},{"s":"f36","x":620,"y":532,"b":548},{"s":"f36","x":623,"y":527,"b":548},{"s":"f36","x":626,"y":524,"b":548},{"s":"f36","x":629,"y":521,"b":548},{"s":"f36","x":632,"y":518,"b":548},{"s":"f36","x":634,"y":355,"b":548},{"s":"f36","x":634.9,"y":520,"b":548},{"s":"f36","x":637,"y":520,"b":548},{"s":"f36","x":640,"y":517,"b":548},{"s":"f36","x":642,"y":516,"b":548},{"s":"f36","x":644,"y":353,"b":548},{"s":"f36","x":644.9,"y":518,"b":548},{"s":"f36","x":647,"y":516,"b":548},{"s":"f36","x":650,"y":514,"b":548},{"s":"f36","x":655,"y":513,"b":548},{"s":"f36","x":660,"y":512,"b":548},{"s":"f36","x":663,"y":510,"b":548},{"s":"f36","x":665,"y":345,"b":548},{"s":"f36","x":665.9,"y":510,"b":548},{"s":"f36","x":668,"y":514,"b":548},{"s":"f36","x":672,"y":520,"b":548},{"s":"f36","x":677,"y":528,"b":548},{"s":"f36","x":681,"y":536,"b":548},{"s":"f36","x":685,"y":545,"b":548},{"s":"f36","x":687,"y":548,"b":548},
{"s":"f6","x":578,"y":788,"b":788},{"s":"f6","x":585,"y":779,"b":788},{"s":"f6","x":590,"y":775,"b":788},{"s":"f6","x":595,"y":769,"b":788},{"s":"f6","x":600,"y":762,"b":788},{"s":"f6","x":604,"y":752,"b":788},{"s":"f6","x":606.5,"y":740,"b":788},{"s":"f6","x":608,"y":715,"b":788},{"s":"f6","x":609,"y":602,"b":788},{"s":"f6","x":610,"y":680,"b":788},{"s":"f6","x":611.5,"y":730,"b":788},{"s":"f6","x":613.3,"y":743,"b":788},{"s":"f6","x":615.5,"y":735,"b":788},{"s":"f6","x":617,"y":700,"b":788},{"s":"f6","x":618.3,"y":595,"b":788},{"s":"f6","x":619.5,"y":690,"b":788},{"s":"f6","x":621,"y":735,"b":788},{"s":"f6","x":623.3,"y":747,"b":788},{"s":"f6","x":625.5,"y":738,"b":788},{"s":"f6","x":627,"y":700,"b":788},{"s":"f6","x":628.3,"y":590,"b":788},{"s":"f6","x":629.5,"y":690,"b":788},{"s":"f6","x":631,"y":728,"b":788},{"s":"f6","x":632.7,"y":737,"b":788},{"s":"f6","x":634.5,"y":728,"b":788},{"s":"f6","x":635.7,"y":690,"b":788},{"s":"f6","x":636.7,"y":592,"b":788},{"s":"f6","x":637.8,"y":680,"b":788},{"s":"f6","x":639.3,"y":725,"b":788},{"s":"f6","x":640.7,"y":732,"b":788},{"s":"f6","x":642.3,"y":725,"b":788},{"s":"f6","x":643.2,"y":690,"b":788},{"s":"f6","x":644,"y":593,"b":788},{"s":"f6","x":644.8,"y":680,"b":788},{"s":"f6","x":646,"y":727,"b":788},{"s":"f6","x":646.6,"y":700,"b":788},{"s":"f6","x":647.3,"y":593,"b":788},{"s":"f6","x":648.1,"y":690,"b":788},{"s":"f6","x":649.3,"y":723,"b":788},{"s":"f6","x":650.6,"y":705,"b":788},{"s":"f6","x":651.7,"y":597,"b":788},{"s":"f6","x":652.5,"y":690,"b":788},{"s":"f6","x":653.3,"y":720,"b":788},{"s":"f6","x":654.1,"y":690,"b":788},{"s":"f6","x":655,"y":590,"b":788},{"s":"f6","x":655.8,"y":690,"b":788},{"s":"f6","x":656.7,"y":717,"b":788},{"s":"f6","x":658.2,"y":690,"b":788},{"s":"f6","x":659.3,"y":600,"b":788},{"s":"f6","x":660.3,"y":690,"b":788},{"s":"f6","x":661.3,"y":713,"b":788},{"s":"f6","x":662.4,"y":680,"b":788},{"s":"f6","x":663.3,"y":607,"b":788},{"s":"f6","x":664.5,"y":680,"b":788},{"s":"f6","x":667.3,"y":707,"b":788},{"s":"f6","x":670,"y":700,"b":788},{"s":"f6","x":673,"y":680,"b":788},{"s":"f6","x":675,"y":640,"b":788},{"s":"f6","x":676.7,"y":615,"b":788},{"s":"f6","x":678.5,"y":650,"b":788},{"s":"f6","x":680,"y":685,"b":788},{"s":"f6","x":681.7,"y":697,"b":788},{"s":"f6","x":684,"y":690,"b":788},{"s":"f6","x":686.5,"y":660,"b":788},{"s":"f6","x":689.3,"y":588,"b":788},{"s":"f6","x":691.5,"y":660,"b":788},{"s":"f6","x":694,"y":690,"b":788},{"s":"f6","x":697,"y":685,"b":788},{"s":"f6","x":699.5,"y":650,"b":788},{"s":"f6","x":701.7,"y":605,"b":788},{"s":"f6","x":704,"y":660,"b":788},{"s":"f6","x":708.3,"y":690,"b":788},{"s":"f6","x":711,"y":680,"b":788},{"s":"f6","x":714,"y":640,"b":788},{"s":"f6","x":716.7,"y":612,"b":788},{"s":"f6","x":719.5,"y":645,"b":788},{"s":"f6","x":722,"y":670,"b":788},{"s":"f6","x":725,"y":680,"b":788},{"s":"f6","x":728,"y":665,"b":788},{"s":"f6","x":731,"y":630,"b":788},{"s":"f6","x":733.3,"y":615,"b":788},{"s":"f6","x":736,"y":635,"b":788},{"s":"f6","x":739,"y":660,"b":788},{"s":"f6","x":741.7,"y":670,"b":788},{"s":"f6","x":745,"y":660,"b":788},{"s":"f6","x":748,"y":643,"b":788},{"s":"f6","x":751.7,"y":635,"b":788},{"s":"f6","x":755,"y":645,"b":788},{"s":"f6","x":758,"y":660,"b":788},{"s":"f6","x":761.7,"y":668,"b":788},{"s":"f6","x":765,"y":663,"b":788},{"s":"f6","x":769,"y":652,"b":788},{"s":"f6","x":773.3,"y":647,"b":788},{"s":"f6","x":777,"y":652,"b":788},{"s":"f6","x":780,"y":662,"b":788},{"s":"f6","x":783.3,"y":667,"b":788},{"s":"f6","x":787,"y":660,"b":788},{"s":"f6","x":791,"y":650,"b":788},{"s":"f6","x":795,"y":648,"b":788},{"s":"f6","x":799,"y":655,"b":788},{"s":"f6","x":802,"y":663,"b":788},{"s":"f6","x":805,"y":665,"b":788},{"s":"f6","x":809,"y":660,"b":788},{"s":"f6","x":813,"y":655,"b":788},{"s":"f6","x":818.3,"y":653,"b":788},{"s":"f6","x":821,"y":658,"b":788},{"s":"f6","x":823.3,"y":662,"b":788},{"s":"f6","x":826,"y":657,"b":788},{"s":"f6","x":830,"y":650,"b":788},{"s":"f6","x":834,"y":653,"b":788},{"s":"f6","x":837,"y":659,"b":788},{"s":"f6","x":840,"y":662,"b":788},{"s":"f6","x":843,"y":660,"b":788},{"s":"f6","x":846,"y":657,"b":788}
],
"lightFill": [
{"s":"l12","x":662,"y":310,"b":310},{"s":"l12","x":663,"y":312,"b":310},{"s":"l12","x":670,"y":315,"b":310},{"s":"l12","x":677,"y":318,"b":310},{"s":"l12","x":687,"y":323,"b":310},{"s":"l12","x":697,"y":327,"b":310},{"s":"l12","x":710,"y":329,"b":310},{"s":"l12","x":723,"y":330,"b":310},{"s":"l12","x":740,"y":331,"b":310},{"s":"l12","x":757,"y":331,"b":310},{"s":"l12","x":780,"y":331,"b":310},{"s":"l12","x":800,"y":332,"b":310},{"s":"l12","x":820,"y":331,"b":310},{"s":"l12","x":846,"y":332,"b":310},
{"s":"l36","x":687,"y":548,"b":548},{"s":"l36","x":690,"y":552,"b":548},{"s":"l36","x":697,"y":557,"b":548},{"s":"l36","x":705,"y":561,"b":548},{"s":"l36","x":715,"y":563,"b":548},{"s":"l36","x":730,"y":564,"b":548},{"s":"l36","x":757,"y":565,"b":548},{"s":"l36","x":800,"y":565,"b":548},{"s":"l36","x":846,"y":565,"b":548}
],
"dashed": [
{"x":552,"x2":846,"y":310},
{"x":552,"x2":846,"y":548},
{"x":552,"x2":846,"y":788}
],
"arrows": [
{"a":"A1","o":1,"x":643.3,"y":167.7},{"a":"A1","o":2,"x":653.3,"y":167.7},{"a":"A1","o":3,"x":653.3,"y":216.7},{"a":"A1","o":4,"x":658.3,"y":216.7},{"a":"A1","o":5,"x":648.3,"y":266.7},{"a":"A1","o":6,"x":638.3,"y":216.7},{"a":"A1","o":7,"x":643.3,"y":216.7},{"a":"A1","o":8,"x":643.3,"y":167.7},
{"a":"A2","o":1,"x":675,"y":401.7},{"a":"A2","o":2,"x":684,"y":401.7},{"a":"A2","o":3,"x":684,"y":450},{"a":"A2","o":4,"x":690,"y":450},{"a":"A2","o":5,"x":680,"y":500},{"a":"A2","o":6,"x":669.3,"y":450},{"a":"A2","o":7,"x":675,"y":450},{"a":"A2","o":8,"x":675,"y":401.7}
],
"bars": [
{"x":792,"x2":846,"y":437,"y2":437},
{"x":792,"x2":792,"y":437,"y2":441},
{"x":174.3,"x2":174.3,"y":797,"y2":802},
{"x":174.3,"x2":220,"y":802,"y2":802},
{"x":220,"x2":220,"y":775,"y2":802},
{"x":217,"x2":220,"y":775,"y2":775}
],
"bigText": [
{"t":"CTRL","x":8,"y":29},
{"t":"CTRL","x":503,"y":28},
{"t":"Pentylene-","x":2,"y":142},
{"t":"tetrazol","x":2,"y":170},
{"t":"(mM)","x":2,"y":197},
{"t":"4","x":2,"y":248},
{"t":"16","x":6,"y":447},
{"t":"40","x":6,"y":648},
{"t":"Etomidate","x":503,"y":153},
{"t":"0.12","x":504,"y":250},
{"t":"0.36","x":503,"y":449},
{"t":"0.6","x":501,"y":652}
],
"midText": [
{"t":"1 s","x":807,"y":423},
{"t":"20","x":808,"y":468},
{"t":"mV","x":805,"y":490}
],
"smallText": [
{"t":"1 min","x":172,"y":797},
{"t":"10 nA","x":223,"y":797},
{"t":"Resting membrane potential","x":122,"y":829}
],
"tinyText": [
{"t":"-50","x":358,"y":65},
{"t":"-60","x":358,"y":81},
{"t":"mV","x":358,"y":100}
]
},
"encoding": {
"x": {"field": "x", "type": "quantitative", "scale": {"domain": [0, 846], "nice": false, "zero": false}, "axis": null},
"y": {"field": "y", "type": "quantitative", "scale": {"domain": [0, 835], "nice": false, "zero": false, "reverse": true}, "axis": null}
},
"layer": [
{"data": {"name": "bands"}, "mark": {"type": "rect", "color": "#bebebe"}, "encoding": {"x2": {"field": "x2"}, "y2": {"field": "y2"}}},
{"data": {"name": "lightFill"}, "mark": {"type": "area", "color": "#d9d9d9", "opacity": 1}, "encoding": {"y2": {"field": "b"}, "detail": {"field": "s"}}},
{"data": {"name": "darkFill"}, "mark": {"type": "area", "color": "#8e8e8e", "opacity": 1}, "encoding": {"y2": {"field": "b"}, "detail": {"field": "s"}}},
{"data": {"name": "mass"}, "mark": {"type": "area", "color": "#48443a", "opacity": 1}, "encoding": {"y2": {"field": "b"}, "detail": {"field": "s"}}},
{"data": {"name": "dashed"}, "mark": {"type": "rule", "color": "#48443a", "strokeWidth": 1.5, "strokeDash": [3, 4]}, "encoding": {"x2": {"field": "x2"}}},
{"data": {"name": "left"}, "mark": {"type": "line", "color": "#48443a", "strokeWidth": 1.5}, "encoding": {"detail": {"field": "s"}}},
{"data": {"name": "right"}, "mark": {"type": "line", "color": "#48443a", "strokeWidth": 1.9}, "encoding": {"detail": {"field": "s"}}},
{"data": {"name": "ctrlR"}, "mark": {"type": "line", "color": "#48443a", "strokeWidth": 3}, "encoding": {"detail": {"field": "s"}}},
{"data": {"name": "arrows"}, "mark": {"type": "line", "color": "#58544a", "strokeWidth": 1}, "encoding": {"detail": {"field": "a"}, "order": {"field": "o"}}},
{"data": {"name": "bars"}, "mark": {"type": "rule", "color": "#6a6a6a", "strokeWidth": 1.2}, "encoding": {"x2": {"field": "x2"}, "y2": {"field": "y2"}}},
{"data": {"name": "bigText"}, "mark": {"type": "text", "align": "left", "baseline": "alphabetic", "font": "Liberation Sans", "fontSize": 25, "color": "#3e3e3e"}, "encoding": {"text": {"field": "t"}}},
{"data": {"name": "midText"}, "mark": {"type": "text", "align": "left", "baseline": "alphabetic", "font": "Liberation Sans", "fontSize": 19, "color": "#3e3e3e"}, "encoding": {"text": {"field": "t"}}},
{"data": {"name": "smallText"}, "mark": {"type": "text", "align": "left", "baseline": "alphabetic", "font": "Liberation Sans", "fontSize": 16, "color": "#3e3e3e"}, "encoding": {"text": {"field": "t"}}},
{"data": {"name": "tinyText"}, "mark": {"type": "text", "align": "left", "baseline": "alphabetic", "font": "Liberation Sans", "fontSize": 12, "color": "#3e3e3e"}, "encoding": {"text": {"field": "t"}}}
]
}
